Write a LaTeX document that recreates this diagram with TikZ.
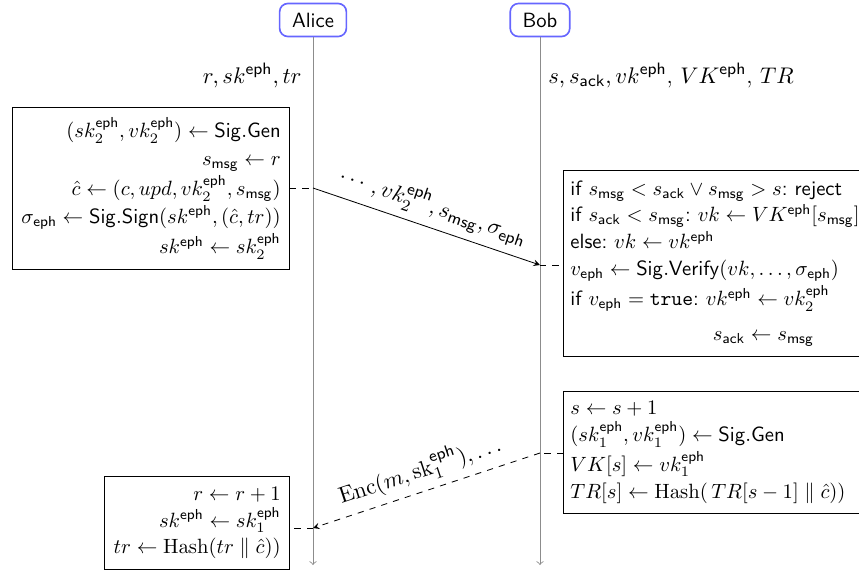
\documentclass[tikz,border=0pt]{standalone}
\usepackage{amsmath}
\usepackage{amssymb}
\newcommand{\Eph}{\mathsf{eph}}
\newcommand{\Msg}{\mathsf{msg}}
\newcommand{\Ack}{\mathsf{ack}}
\tikzset{
  PartyStyle/.style = { rectangle, rounded corners = 4pt, draw = blue!60,
                       thick, font = \sffamily, minimum height = 16pt,
                       inner xsep = 6pt },
  BoxStyle/.style = { rectangle, draw, inner xsep = 4.3pt, inner ysep = 5pt,
                     font = \sffamily\frenchspacing },
  BobBoxStyle/.style = { BoxStyle, inner xsep = 3.4pt, text width = 142pt,
                        align = left, anchor = west },
  StateStyle/.style = { inner sep = 0pt, font = \fontsize{11.1}{13.5}\selectfont },
  LifeStyle/.style = { ->, black!45 },
  MsgStyle/.style = { -stealth },
  MsgLabelStyle/.style = { midway, above, sloped,
                          font = \fontsize{11.3}{13.5}\selectfont } }

\begin{document}
\begin{tikzpicture}[x=0.4845pt, y=-0.4845pt]
  \useasboundingbox (0,0) rectangle (859,575);

  \node[PartyStyle] (alice) at (313,20) {Alice};
  \node[PartyStyle] (bob) at (540,20) {Bob};
  \coordinate (aliceEnd) at (313,565);
  \coordinate (bobEnd) at (540,565);
  \draw[LifeStyle] (alice) -- (aliceEnd);
  \draw[LifeStyle] (bob) -- (bobEnd);

  \node[StateStyle, anchor=base east] (aliceState) at (302,83)
    {$r, sk^{\Eph}, tr$};
  \node[StateStyle, anchor=base west] (bobState) at (548,83)
    {$s, s_{\Ack}, vk^{\Eph}$, $VK^{\Eph}$, $TR$};

  % Alice sends
  \node[BoxStyle, align=right, anchor=east] (sign) at (290,188.5) {
    $(sk_2^{\Eph}, vk_2^{\Eph}) \leftarrow \mathsf{Sig.Gen}$\\[1.3pt]
    $s_{\Msg} \leftarrow r$\\[1.3pt]
    $\hat{c} \leftarrow (c, upd, vk_2^{\Eph}, s_{\Msg})$\\[1.3pt]
    $\sigma_{\Eph} \leftarrow \mathsf{Sig.Sign}(sk^{\Eph}, (\hat{c}, tr))$\\[1.3pt]
    $sk^{\Eph} \leftarrow sk_2^{\Eph}$};

  % Bob receives
  \node[BobBoxStyle] (verify) at (563,263.5) {
    if $s_{\Msg} < s_{\Ack} \vee s_{\Msg} > s$: reject\\[1pt]
    if $s_{\Ack} < s_{\Msg}$: $vk \leftarrow VK^{\Eph}[s_{\Msg}]$\\[1pt]
    else: $vk \leftarrow vk^{\Eph}$\\[1pt]
    $v_{\Eph} \leftarrow \mathsf{Sig.Verify}(vk, \ldots, \sigma_{\Eph})$\\[1pt]
    if $v_{\Eph} = \mathtt{true}$: $vk^{\Eph} \leftarrow vk_2^{\Eph}$\\[5pt]
    \hspace*{69pt}$s_{\Ack} \leftarrow s_{\Msg}$};

  % Bob sends
  \node[BobBoxStyle] (keygen) at (563,452.5) {
    $s \leftarrow s+1$\\[1pt]
    $(sk_1^{\Eph}, vk_1^{\Eph}) \leftarrow \mathsf{Sig.Gen}$\\[1pt]
    $VK[s] \leftarrow vk_1^{\Eph}$\\[1pt]
    $TR[s] \leftarrow \mathrm{Hash}(\,TR[s-1] \parallel \hat{c}))$};

  % Alice receives
  \node[BoxStyle, align=right, anchor=east] (update) at (290,523) {
    $r \leftarrow r+1$\\[1pt]
    $sk^{\Eph} \leftarrow sk_1^{\Eph}$\\[1pt]
    $tr \leftarrow \mathrm{Hash}(tr \parallel \hat{c}))$};

  \coordinate (sendA) at (313,188);
  \coordinate (recvB) at (540,265);
  \draw[dashed] (sign.east |- sendA) -- (sendA);
  \draw[MsgStyle] (sendA) -- node[MsgLabelStyle]
    {$\cdots, vk_2^{\Eph}, s_{\Msg}, \sigma_{\Eph}$} (recvB);
  \draw[dashed] (recvB) -- (verify.west |- recvB);

  \coordinate (sendB) at (540,453);
  \coordinate (recvA) at (313,528);
  \draw[dashed] (keygen.west |- sendB) -- (sendB);
  \draw[MsgStyle, dashed] (sendB) -- node[MsgLabelStyle]
    {$\mathrm{Enc}(m, \mathrm{sk}_1^{\Eph}), \ldots$} (recvA);
  \draw[dashed] (recvA) -- (update.east |- recvA);

\end{tikzpicture}
\end{document}
